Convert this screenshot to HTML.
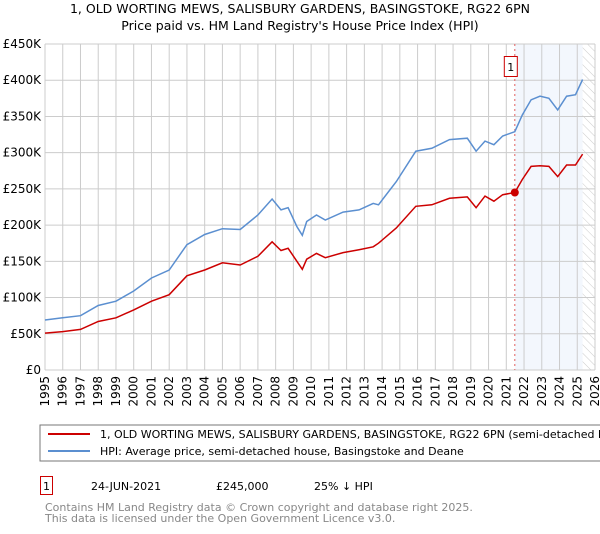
<!DOCTYPE html>
<html><head><meta charset="utf-8"><style>
body{margin:0;background:#fff;font-family:"DejaVu Sans","Liberation Sans",sans-serif;}
svg text{font-family:"DejaVu Sans","Liberation Sans",sans-serif;}
</style></head><body>
<svg id="c" width="600" height="530" xmlns="http://www.w3.org/2000/svg">
<defs><pattern id="hatch" width="6" height="6" patternUnits="userSpaceOnUse" patternTransform="rotate(-45)"><line x1="0" y1="0" x2="0" y2="6" stroke="#ccc" stroke-width="1"/></pattern></defs>
<text x="300" y="13" text-anchor="middle" font-size="12.5">1, OLD WORTING MEWS, SALISBURY GARDENS, BASINGSTOKE, RG22 6PN</text>
<text x="300" y="30" text-anchor="middle" font-size="12.5">Price paid vs. HM Land Registry's House Price Index (HPI)</text>
<g id="grid"></g><g id="series"></g><g id="axes"></g>
<rect x="40" y="425" width="570" height="36" fill="none" stroke="#777"/>
<line x1="48" y1="434" x2="90" y2="434" stroke="#cc0000" stroke-width="2"/>
<text x="100" y="438" font-size="11">1, OLD WORTING MEWS, SALISBURY GARDENS, BASINGSTOKE, RG22 6PN (semi-detached house)</text>
<line x1="48" y1="451" x2="90" y2="451" stroke="#5b8fd0" stroke-width="2"/>
<text x="100" y="455" font-size="11">HPI: Average price, semi-detached house, Basingstoke and Deane</text>
<rect x="40.5" y="476.5" width="12" height="18" fill="none" stroke="#cc0000"/>
<text x="46.5" y="490" text-anchor="middle" font-size="11">1</text>
<text x="91" y="490" font-size="11">24-JUN-2021</text>
<text x="216" y="490" font-size="11">£245,000</text>
<text x="314" y="490" font-size="11">25% ↓ HPI</text>
<text x="45" y="511" font-size="11" fill="#888">Contains HM Land Registry data © Crown copyright and database right 2025.</text>
<text x="45" y="522" font-size="11" fill="#888">This data is licensed under the Open Government Licence v3.0.</text>
</svg>
<script>
const yTicks=[0,50,100,150,200,250,300,350,400,450];
const yTickLabels=["£0","£50K","£100K","£150K","£200K","£250K","£300K","£350K","£400K","£450K"];
const years=[1995,1996,1997,1998,1999,2000,2001,2002,2003,2004,2005,2006,2007,2008,2009,2010,2011,2012,2013,2014,2015,2016,2017,2018,2019,2020,2021,2022,2023,2024,2025,2026];
const hpiT=[1995,1996,1997,1998,1999,2000,2001,2002,2003,2004,2005,2006,2007,2007.8,2008.3,2008.7,2009.2,2009.5,2009.75,2010.3,2010.8,2011.8,2012.7,2013.5,2013.8,2014.8,2015.9,2016.8,2017.8,2018.8,2019.3,2019.8,2020.3,2020.8,2021.48,2021.9,2022.4,2022.9,2023.4,2023.9,2024.4,2024.9,2025.3];
const hpiV=[69,72,75,89,95,109,127,138,173,187,195,194,214,236,221,224,198,186,205,214,207,218,221,230,228,260,302,306,318,320,302,316,311,323,329,352,373,378,375,359,378,380,401];
const ppT=[1995,1996,1997,1998,1999,2000,2001,2002,2003,2004,2005,2006,2007,2007.8,2008.3,2008.7,2009.2,2009.5,2009.75,2010.3,2010.8,2011.8,2012.7,2013.5,2013.8,2014.8,2015.9,2016.8,2017.8,2018.8,2019.3,2019.8,2020.3,2020.8,2021.48,2021.9,2022.4,2022.9,2023.4,2023.9,2024.4,2024.9,2025.3];
const ppV=[51,53,56,67,72,83,95,104,130,138,148,145,157,177,165,168,150,139,153,161,155,162,166,170,175,196,226,228,237,239,224,240,233,242,245,263,281,282,281,267,283,283,298];
const saleT=[2021.48], saleV=[245];
const x0=45,x1=595,y0=370,y1=44;
const X=t=>x0+(t-1995)/(2026-1995)*(x1-x0);
const Y=v=>y0-v/450*(y0-y1);
const ns="http://www.w3.org/2000/svg";
function mk(p,tag,a){const e=document.createElementNS(ns,tag);for(const k in a)e.setAttribute(k,a[k]);p.appendChild(e);return e;}
const g=document.getElementById('grid'),s=document.getElementById('series'),ax=document.getElementById('axes');
let r=mk(g,'rect',{x:X(saleT[0]),y:y1,width:X(2025.3)-X(saleT[0]),height:y0-y1,fill:'#eef3fc',opacity:0.7});


r=mk(g,'rect',{x:X(2025.3),y:y1,width:x1-X(2025.3),height:y0-y1,fill:'url(#hatch)'});


yTicks.forEach((v,i)=>{
 const l=mk(g,'line',{x1:x0,x2:x1,y1:Y(v),y2:Y(v),stroke:'#ccc'});
 
 
 const t=mk(ax,'text',{x:x0-4,y:Y(v)+4,'text-anchor':'end','font-size':'12'});t.textContent=yTickLabels[i];
 
 
});
years.forEach(yr=>{
 const l=mk(g,'line',{x1:X(yr),x2:X(yr),y1:y1,y2:y0,stroke:'#ccc'});
 
 
 const t=mk(ax,'text',{x:0,y:0,'text-anchor':'end','font-size':'12',transform:`translate(${X(yr)+4},376) rotate(-90)`});t.textContent=yr;
 
 
});
let vl=mk(s,'line',{x1:X(saleT[0]),x2:X(saleT[0]),y1:y1,y2:y0,stroke:'#e06060','stroke-dasharray':'2,3'});


const path=(T,V)=>T.map((t,i)=>(i?'L':'M')+X(t).toFixed(1)+','+Y(V[i]).toFixed(1)).join('');
let p=mk(s,'path',{d:path(hpiT,hpiV),fill:'none',stroke:'#5b8fd0','stroke-width':1.5});


p=mk(s,'path',{d:path(ppT,ppV),fill:'none',stroke:'#cc0000','stroke-width':1.5});


let c=mk(s,'circle',{cx:X(saleT[0]),cy:Y(saleV[0]),r:4,fill:'#cc0000'});


let b=mk(s,'rect',{x:X(saleT[0])-10.5,y:56.5,width:13,height:20,fill:'#fff',stroke:'#cc0000'});


let bt=mk(s,'text',{x:X(saleT[0])-4,y:71,'text-anchor':'middle','font-size':'11'});bt.textContent='1';


</script>
</body></html>
